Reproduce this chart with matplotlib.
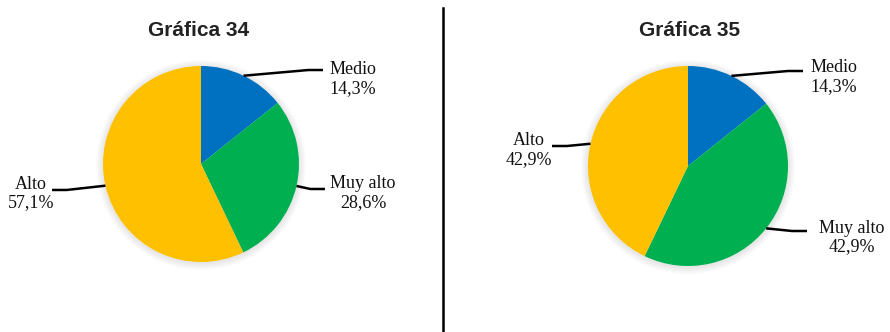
import matplotlib
matplotlib.use("Agg")
import matplotlib.pyplot as plt
from matplotlib.lines import Line2D
from matplotlib.patches import Circle
import numpy as np

# ---- data ----
categories = ["Medio", "Muy alto", "Alto"]
values_34 = [14.3, 28.6, 57.1]
values_35 = [14.3, 42.9, 42.9]
titles = ["Gráfica 34", "Gráfica 35"]
colors = ["#0070C0", "#00B050", "#FFC000"]

# ---- layout (pixels / data-unit offsets) ----
W, H = 890, 332
pies = [
    dict(values=values_34, title=titles[0], cx=201, cy=164, r=98, tx=199,
         line_end=[(1.245, 0.959), (1.265, -0.255), (-1.52, -0.265)],
         text_pos=[(1.55, 0.867), (1.653, -0.296), (-1.735, -0.30)]),
    dict(values=values_35, title=titles[1], cx=688, cy=166, r=100, tx=690,
         line_end=[(1.15, 0.95), (1.19, -0.65), (-1.36, 0.2)],
         text_pos=[(1.46, 0.89), (1.64, -0.715), (-1.59, 0.16)]),
]

fig = plt.figure(figsize=(W / 100, H / 100), dpi=100)
fig.patch.set_facecolor("white")

serif = "Liberation Serif"
for p in pies:
    ax = fig.add_axes([(p["cx"] - p["r"]) / W, (H - p["cy"] - p["r"]) / H,
                       2 * p["r"] / W, 2 * p["r"] / H])
    # soft shadow
    for k in range(6):
        ax.add_patch(Circle((0.0, -0.01), 1.0 + 0.012 * (k + 1), color="black",
                            alpha=0.016, lw=0, zorder=0, clip_on=False))
    wedges, _ = ax.pie(p["values"], colors=colors, startangle=90,
                       counterclock=False, radius=1,
                       wedgeprops=dict(linewidth=0))
    for w in wedges:
        w.set_zorder(2)
    ax.set_xlim(-1, 1)
    ax.set_ylim(-1, 1)
    ax.axis("off")
    total = sum(p["values"])
    cum = 0
    for i, (cat, v) in enumerate(zip(categories, p["values"])):
        mid = 90 - (cum + v / 2) / total * 360
        cum += v
        ex, ey = np.cos(np.radians(mid)), np.sin(np.radians(mid))
        lx, ly = p["line_end"][i]
        sgn = 1 if lx > 0 else -1
        elbow = (lx - sgn * 0.15, ly)
        ax.add_line(Line2D([ex, elbow[0], lx], [ey, elbow[1], ly], color="black",
                           lw=1.8, clip_on=False, zorder=3,
                           solid_joinstyle="round", solid_capstyle="butt"))
        tx, ty = p["text_pos"][i]
        ax.text(tx, ty, f"{cat}\n{v:.1f}%".replace(".", ","), ha="center",
                va="center", multialignment="center", fontsize=13,
                family=serif, linespacing=1.1, clip_on=False, color="#111111")
    fig.text(p["tx"] / W, 1 - 31 / H, p["title"], ha="center", va="center",
             fontsize=15, fontweight="bold", family="Liberation Sans",
             color="#222222")

fig.add_artist(Line2D([443 / W, 443 / W], [1 - 8 / H, 0], color="black",
                      lw=1.8, transform=fig.transFigure))

fig.savefig("out.png", dpi=100, facecolor="white")
